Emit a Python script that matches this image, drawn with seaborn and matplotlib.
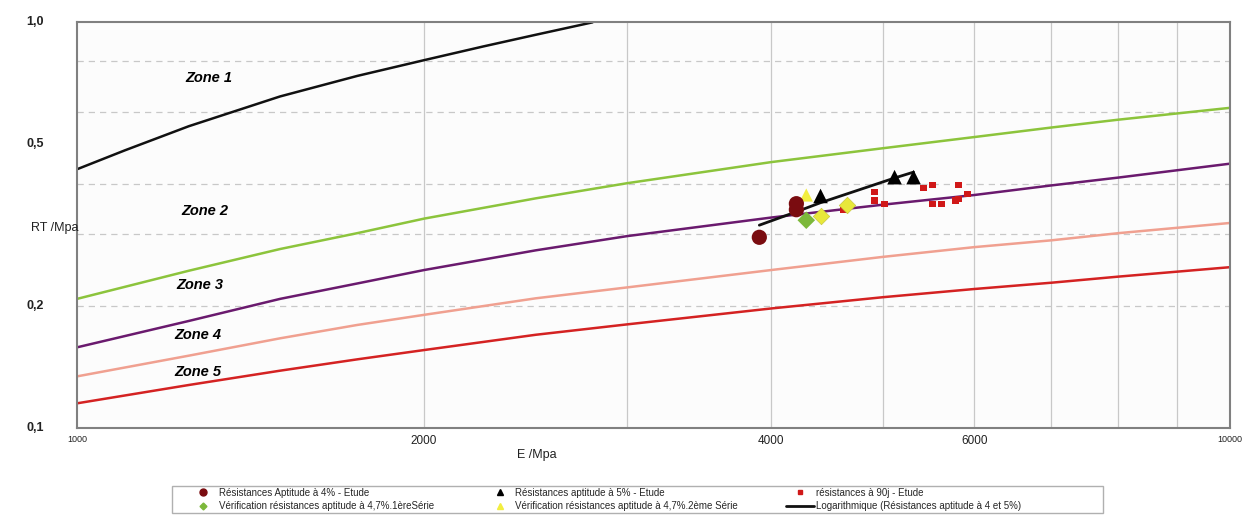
import numpy as np
import pandas as pd
import matplotlib
matplotlib.use('Agg')
import matplotlib.pyplot as plt
import seaborn as sns
from matplotlib.lines import Line2D
from matplotlib.patches import Rectangle
from matplotlib.ticker import NullLocator

# ---------------- données ----------------
E_zone = [1000, 1250, 1500, 1750, 2000, 2500, 3000, 4000, 5000, 6000, 7000, 8000, 10000]
rt_vert = [0.208, 0.244, 0.276, 0.302, 0.328, 0.368, 0.401, 0.452, 0.489, 0.521, 0.550, 0.575, 0.615]
rt_violet = [0.158, 0.1835, 0.208, 0.227, 0.245, 0.274, 0.297, 0.330, 0.355, 0.375, 0.396, 0.414, 0.448]
rt_saumon = [0.134, 0.1507, 0.1663, 0.1794, 0.190, 0.2087, 0.222, 0.245, 0.264, 0.279, 0.290, 0.302, 0.320]
rt_rouge = [0.115, 0.1276, 0.1384, 0.1476, 0.1556, 0.1697, 0.180, 0.197, 0.210, 0.220, 0.228, 0.236, 0.249]

E_noir = [1000, 1100, 1250, 1500, 1750, 2000, 2250, 2500, 2800]
rt_noir = [0.434, 0.483, 0.554, 0.656, 0.737, 0.806, 0.871, 0.931, 0.999]

E_apt4 = [3906, 4206, 4206]
rt_apt4 = [0.295, 0.357, 0.345]

E_apt5 = [4414, 5117, 5315]
rt_apt5 = [0.373, 0.415, 0.415]

E_90j = [4620, 4916, 4916, 5015, 5420, 5521, 5521, 5621, 5815, 5780, 5815, 5921]
rt_90j = [0.344, 0.381, 0.364, 0.356, 0.390, 0.397, 0.356, 0.356, 0.397, 0.364, 0.367, 0.377]

E_verif1 = [4290]
rt_verif1 = [0.325]

E_verif2_tri = [4290]
rt_verif2_tri = [0.375]
E_verif2_dia = [4422, 4658]
rt_verif2_dia = [0.333, 0.354]

E_log = [3906, 4206, 4414, 5117, 5315]
rt_log = [0.316, 0.341, 0.359, 0.413, 0.427]

zones = ['Zone 1', 'Zone 2', 'Zone 3', 'Zone 4', 'Zone 5']

labels_legende = [
    'Résistances Aptitude à 4% - Etude',
    'Vérification résistances aptitude à 4,7%.1èreSérie',
    'Résistances aptitude à 5% - Etude',
    'Vérification résistances aptitude à 4,7%.2ème Série',
    'résistances à 90j - Etude',
    'Logarithmique (Résistances aptitude à 4 et 5%)',
]

# ---------------- figure ----------------
sns.set_style('white')
plt.rcParams['font.family'] = ['Liberation Sans', 'DejaVu Sans']

fig = plt.figure(figsize=(12.52, 5.15), dpi=100)
ax = fig.add_axes([0.0615, 0.169, 0.921, 0.788])
ax.set_facecolor('#fcfcfc')
ax.set_xscale('log')
ax.set_yscale('log')
ax.set_xlim(1000, 10000)
ax.set_ylim(0.1, 1.0)

# grilles
for e in range(2000, 10000, 1000):
    ax.axvline(e, color='#c8c8c8', lw=0.9, zorder=0)
for r in [0.2, 0.3, 0.4, 0.6, 0.8]:
    ax.axhline(r, color='#c8c8c8', lw=0.9, ls=(0, (5, 4)), zorder=0)

# courbes de zones
courbes = [
    (E_noir, rt_noir, '#111111'),
    (E_zone, rt_vert, '#8cc43c'),
    (E_zone, rt_violet, '#6a1a6e'),
    (E_zone, rt_saumon, '#f0a090'),
    (E_zone, rt_rouge, '#d42222'),
]
for xs, ys, c in courbes:
    df_c = pd.DataFrame({'E': xs, 'RT': ys})
    sns.lineplot(data=df_c, x='E', y='RT', color=c, lw=1.8, ax=ax,
                 sort=False, estimator=None, zorder=2)

# courbe de tendance logarithmique
df_log = pd.DataFrame({'E': E_log, 'RT': rt_log})
sns.lineplot(data=df_log, x='E', y='RT', color='#111111', lw=2, ax=ax,
             sort=False, estimator=None, zorder=4)

# points
sns.scatterplot(x=E_90j, y=rt_90j, marker='s', s=22, color='#d01818',
                edgecolor='none', ax=ax, zorder=3)
sns.scatterplot(x=E_verif1, y=rt_verif1, marker='D', s=80, color='#7cb83a',
                edgecolor='none', ax=ax, zorder=3)
sns.scatterplot(x=E_verif2_dia, y=rt_verif2_dia, marker='D', s=70, color='#e8e83a',
                edgecolor='#c8c840', linewidth=0.5, ax=ax, zorder=3)
sns.scatterplot(x=E_verif2_tri, y=rt_verif2_tri, marker='^', s=90, color='#f2ee40',
                edgecolor='none', ax=ax, zorder=3)
sns.scatterplot(x=E_apt4, y=rt_apt4, marker='o', s=120, color='#7a0c10',
                edgecolor='none', ax=ax, zorder=5)
sns.scatterplot(x=E_apt5, y=rt_apt5, marker='^', s=110, color='#000000',
                edgecolor='none', ax=ax, zorder=5)

# textes des zones
zone_pos = [(1300, 0.728), (1292, 0.342), (1279, 0.225), (1274, 0.169), (1274, 0.137)]
for z, (xe, yr) in zip(zones, zone_pos):
    ax.text(xe, yr, z, ha='center', va='center', fontsize=10.5,
            fontweight='bold', style='italic', color='black', zorder=6)

# axes et graduations
for a in (ax.xaxis, ax.yaxis):
    a.set_major_locator(NullLocator())
    a.set_minor_locator(NullLocator())
ax.set_xlabel('')
ax.set_ylabel('')

x_ticks = [(1000, 6.5), (2000, 8.5), (4000, 8.5), (6000, 8.5), (10000, 6.5)]
for v, fs in x_ticks:
    ax.text(v, -0.018, str(v), transform=ax.get_xaxis_transform(),
            ha='center', va='top', fontsize=fs, color='#222222')
for v, txt in [(0.1, '0,1'), (0.2, '0,2'), (0.5, '0,5'), (1.0, '1,0')]:
    ax.text(-0.036, v, txt, transform=ax.get_yaxis_transform(),
            ha='center', va='center', fontsize=9, fontweight='bold', color='#222222')

fig.text(0.044, 0.557, 'RT /Mpa', ha='center', va='center', fontsize=9, color='#222222')
fig.text(0.429, 0.116, 'E /Mpa', ha='center', va='center', fontsize=9, color='#222222')

for s in ax.spines.values():
    s.set_visible(True)
    s.set_color('#808080')
    s.set_linewidth(1.5)

# légende (3 colonnes de 2 lignes dans un cadre)
handles = [
    Line2D([], [], marker='o', color='#7a0c10', ls='none', markersize=5),
    Line2D([], [], marker='D', color='#7cb83a', ls='none', markersize=3.5),
    Line2D([], [], marker='^', color='#000000', ls='none', markersize=5),
    Line2D([], [], marker='^', color='#f2ee40', ls='none', markersize=5),
    Line2D([], [], marker='s', color='#d01818', ls='none', markersize=3),
    Line2D([], [], color='#111111', lw=2),
]
fig.patches.append(Rectangle((0.137, 0.003), 0.744, 0.053, transform=fig.transFigure,
                             facecolor='white', edgecolor='#b0b0b0', lw=1.0))
for i, x0 in enumerate([0.151, 0.388, 0.628]):
    leg = fig.legend(handles[2 * i:2 * i + 2], labels_legende[2 * i:2 * i + 2],
                     loc='center left', bbox_to_anchor=(x0, 0.030),
                     fontsize=7, frameon=False, borderpad=0, borderaxespad=0,
                     labelspacing=0.35, handlelength=2.9, handletextpad=0.15)

fig.savefig('out.png', dpi=100)
